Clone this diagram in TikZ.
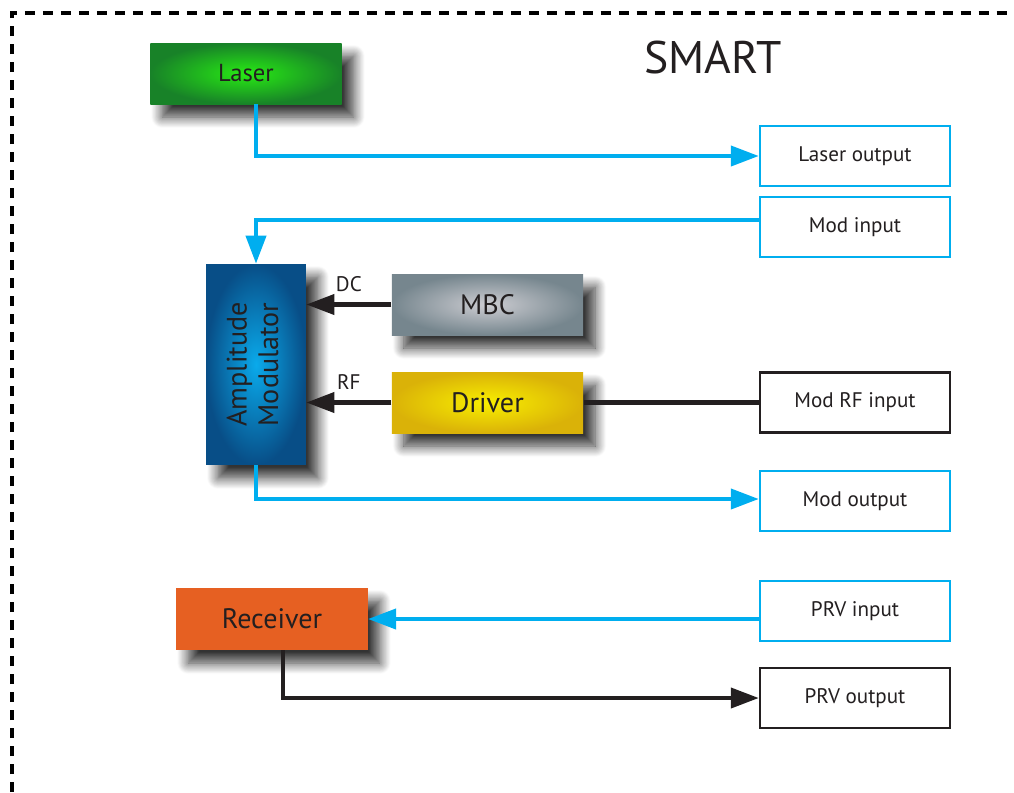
\documentclass[tikz,border=0pt]{standalone}
\usepackage{fontspec}
\setmainfont{PT Sans}
\usetikzlibrary{arrows.meta, shadows.blur}
\definecolor{smcyan}{RGB}{0,174,239}
\definecolor{smtext}{RGB}{35,31,32}
\definecolor{smorange}{RGB}{230,96,34}

\begin{document}
\begin{tikzpicture}[x=0.02cm, y=-0.02cm,
    every node/.style={text=smtext},
    unit/.style={minimum width=3.83cm, minimum height=1.22cm, inner sep=0pt,
        font=\fontsize{16}{18}\selectfont,
        blur shadow={shadow xshift=0.24cm, shadow yshift=-0.26cm, shadow blur radius=0.22cm,
            shadow blur steps=14, shadow opacity=80}},
    port/.style={draw=smcyan, line width=1.4pt, fill=white, minimum width=3.8cm, minimum height=1.2cm,
        inner sep=0pt, font=\fontsize{12}{14}\selectfont},
    rfport/.style={port, draw=smtext},
    optline/.style={draw=smcyan, line width=2.3pt, -{Triangle[length=0.56cm, width=0.4cm]}},
    elline/.style={draw=smtext, line width=2.3pt, -{Triangle[length=0.56cm, width=0.4cm]}}]
    \useasboundingbox (0,0) rectangle (1014,792);
    % frame
    \draw [dashed, dash pattern=on 0.2cm off 0.16cm, line width=1.8pt] (12,792) -- (12,13) -- (1014,13);
    \node at (713,58) [font=\fontsize{26}{30}\selectfont] {SMART};

    % units
    \node [unit, inner color={rgb,255:red,40;green,235;blue,20}, outer color={rgb,255:red,24;green,130;blue,40}, font=\fontsize{14}{16}\selectfont] (laser) at (246,73.5) {Laser};
    \node [unit, minimum width=2cm, minimum height=4.02cm, inner color={rgb,255:red,10;green,170;blue,235}, outer color={rgb,255:red,8;green,78;blue,135}] (amod) at (256,364.5) {\rotatebox{90}{\begin{tabular}{@{}c@{}}Amplitude\\Modulator\end{tabular}}};
    \node [unit, inner color={rgb,255:red,205;green,205;blue,210}, outer color={rgb,255:red,118;green,134;blue,142}] (mbc) at (487.5,304.5) {MBC};
    \node [unit, inner color={rgb,255:red,248;green,238;blue,0}, outer color={rgb,255:red,218;green,178;blue,8}] (driver) at (487.5,402.5) {Driver};
    \node [unit, fill=smorange, minimum height=1.24cm] (recv) at (272,619) {Receiver};

    % ports
    \node [port] (lout) at (855,156) {Laser output};
    \node [port] (min) at (855,227) {Mod input};
    \node [rfport] (mrf) at (855,402.5) {Mod RF input};
    \node [port] (mout) at (855,501) {Mod output};
    \node [port] (prvin) at (855,611) {PRV input};
    \node [rfport] (prvout) at (855,698) {PRV output};

    % connections
    \draw [optline] ([xshift=0.2cm]laser.south) |- (lout.west);
    \draw [optline] ([yshift=0.14cm]min.west) -| (amod.north);
    \draw [elline] (mbc.west) -- (amod.east |- mbc.west) node [midway, above=3pt, font=\fontsize{12}{14}\selectfont] {DC};
    \draw [elline] (driver.west) -- (amod.east |- driver.west) node [midway, above=3pt, font=\fontsize{12}{14}\selectfont] {RF};
    \draw [draw=smtext, line width=2.3pt] (mrf.west) -- (driver.east);
    \draw [optline] (amod.south) |- ([yshift=0.04cm]mout.west);
    \draw [optline] (prvin.west |- recv.east) -- (recv.east);
    \draw [elline] ([xshift=0.22cm]recv.south) |- (prvout.west);
\end{tikzpicture}
\end{document}
